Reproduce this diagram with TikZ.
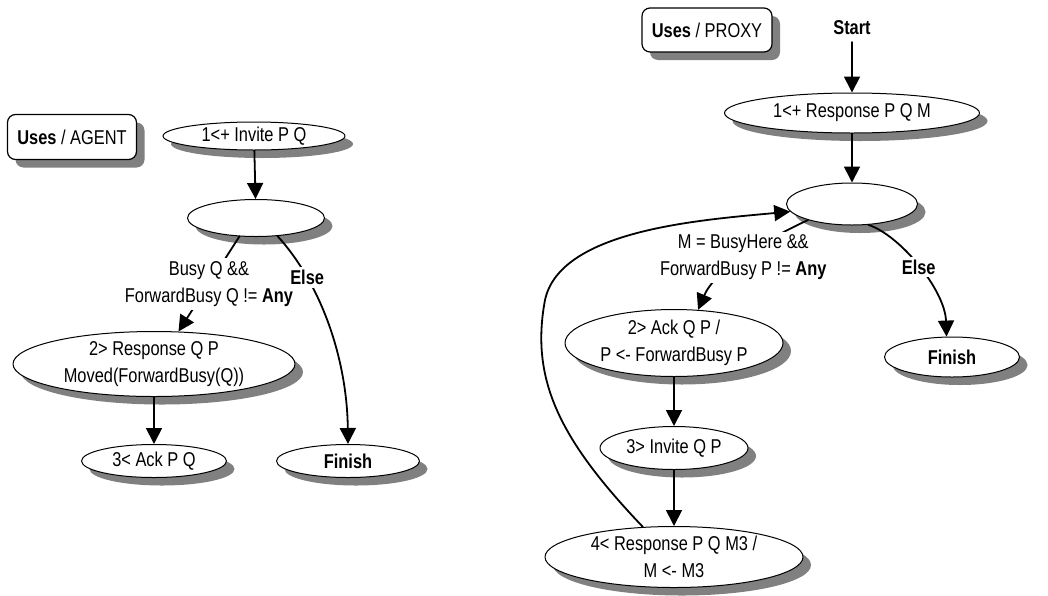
\documentclass[tikz,border=0pt]{standalone}
\usepackage{fontspec}
\setmainfont{Liberation Sans}[FakeStretch=0.82]
\usetikzlibrary{shapes.geometric,shadows,arrows.meta}
\begin{document}
\begin{tikzpicture}[x=0.5pt,y=-0.5pt,>={Triangle[length=8pt,width=8pt]},
  font=\fontsize{10}{13.5}\selectfont, line join=round, line cap=round,
  shad/.style={drop shadow={shadow xshift=4pt,shadow yshift=-4pt,fill=black!50,opacity=1}},
  state/.style={ellipse,draw,line width=0.5pt,fill=white,shad,inner sep=0pt,align=center},
  usesbox/.style={draw,rounded corners=4pt,fill=white,line width=0.6pt,shad,inner sep=0pt},
  arr/.style={->,line width=0.9pt},
  cond/.style={fill=white,align=center,inner sep=1.5pt}]
\useasboundingbox (0,0) rectangle (1048,595);
% AGENT
\node[usesbox,minimum width=64.5pt,minimum height=22.5pt] (agent) at (72,137) {\textbf{Uses} / AGENT};
\node[state,minimum width=91pt,minimum height=14pt] (inv) at (254,136) {1<+ Invite P Q};
\node[state,minimum width=68.5pt,minimum height=18.5pt] (emp) at (256,218) {};
\node[state,minimum width=141pt,minimum height=32.5pt] (resp) at (154,364) {2> Response Q P\\Moved(ForwardBusy(Q))};
\node[state,minimum width=72.5pt,minimum height=16.5pt] (ack) at (154,461) {3< Ack P Q};
\node[state,minimum width=71.5pt,minimum height=16.5pt] (fin) at (348,461) {\textbf{Finish}};
\draw[arr] (inv) -- (emp);
\draw[arr] (emp.-132) -- node[cond]{Busy Q \&\&\\ForwardBusy Q != \textbf{Any}} (resp.53);
\draw[arr] (emp.-40) .. controls (322,285) and (347,360) .. node[cond,pos=0.25]{\textbf{Else}} (fin.north);
\draw[arr] (resp) -- (ack);
% PROXY
\node[usesbox,minimum width=65pt,minimum height=22pt] (proxy) at (707,30) {\textbf{Uses} / PROXY};
\node (start) at (852,28) {\textbf{Start}};
\node[state,minimum width=127.5pt,minimum height=20pt] (resp1) at (852,113) {1<+ Response P Q M};
\node[state,minimum width=65.5pt,minimum height=21pt] (emp2) at (852,204) {};
\node[state,minimum width=109pt,minimum height=33.5pt] (ack2) at (674,343) {2> Ack Q P /\\P <- ForwardBusy P};
\node[state,minimum width=74pt,minimum height=21.5pt] (inv3) at (674,448) {3> Invite Q P};
\node[state,minimum width=129pt,minimum height=30.5pt] (resp4) at (674,557) {4< Response P Q M3 /\\M <- M3};
\node[state,minimum width=67.5pt,minimum height=20pt] (fin2) at (952,357) {\textbf{Finish}};
\draw[arr] (start) -- (resp1);
\draw[arr] (resp1) -- (emp2);
\draw[arr] (emp2.-160) .. controls (765,240) and (715,270) .. node[cond]{M = BusyHere \&\&\\ForwardBusy P != \textbf{Any}} (ack2.54);
\draw[arr] (emp2.-52) .. controls (900,235) and (945,290) .. node[cond]{\textbf{Else}} (fin2.105);
\draw[arr] (ack2) -- (inv3);
\draw[arr] (inv3) -- (resp4);
\draw[arr] (resp4.136) .. controls (560,440) and (530,380) .. (545,300)
  .. controls (560,230) and (700,220) .. (emp2.-173);
\end{tikzpicture}
\end{document}
